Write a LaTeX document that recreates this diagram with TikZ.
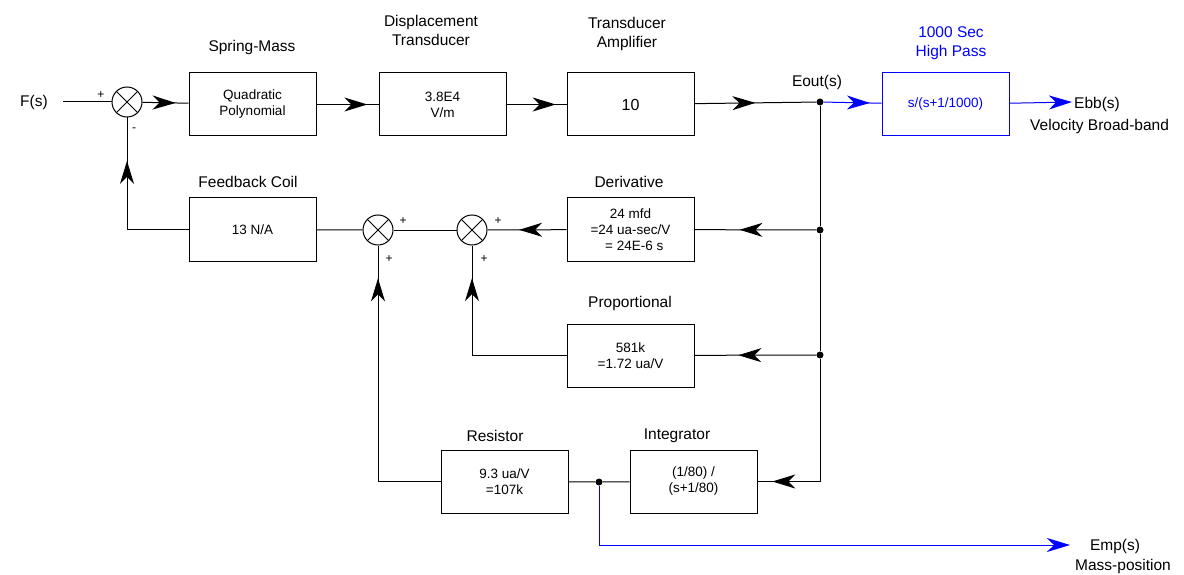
\documentclass[tikz,border=0pt]{standalone}
\usepackage{fontspec}
\setmainfont{Liberation Sans}
\usetikzlibrary{arrows.meta,decorations.markings}
\begin{document}
\begin{tikzpicture}[x=1pt,y=-1pt,
  every node/.style={inner sep=0pt},
  conn/.style={line width=1pt},
  blk/.style={draw,line width=1pt,minimum width=127pt,minimum height=63pt,align=center,font=\fontsize{13.5}{16}\selectfont},
  lbl/.style={font=\fontsize{15.5}{19}\selectfont,align=center},
  sgn/.style={font=\fontsize{12}{14}\selectfont},
  sum/.style={circle,draw,line width=1pt,minimum size=30pt,
    path picture={\draw[line width=1pt] (path picture bounding box.north west) -- (path picture bounding box.south east)
      (path picture bounding box.north east) -- (path picture bounding box.south west);}},
  dot/.style={circle,fill,minimum size=7pt},
  midarrow/.style={postaction={decorate},decoration={markings,mark=at position #1 with {\arrow{Stealth[length=23pt,width=14pt,inset=7pt]}}}},
  endarrow/.style={-{Stealth[length=23pt,width=14pt,inset=7pt]}}
]
\useasboundingbox (0,0) rectangle (1184,575);
% top row
\node[lbl,anchor=west] (F) at (20,102) {F(s)};
\coordinate (Fin) at (63,102);
\node[sum] (s1) at (127,102) {};
\node[blk] (b1) at (252.5,104.5) {Quadratic\\Polynomial};
\node[blk] (b2) at (442.5,104.5) {3.8E4\\V/m};
\node[blk,font=\fontsize{16}{19}\selectfont] (b3) at (630.5,104.5) {10};
\node[dot] (j1) at (820,102) {};
\node[blk,draw=blue,text=blue] (hp) at (945.5,104.5) {s/(s+1/1000)};
\coordinate (ebb) at (1072,102);
\node[lbl,anchor=west] (Ebb) at (1074,104) {Ebb(s)};
\node[lbl,anchor=west] (vbb) at (1030,126) {Velocity Broad-band};
\node[lbl] (l1) at (252,47) {Spring-Mass};
\node[lbl] (l2) at (431,30) {Displacement\\Transducer};
\node[lbl] (l3) at (627,34) {Transducer\\Amplifier};
\node[lbl] (l4) at (817,82) {Eout(s)};
\node[lbl,text=blue] (l5) at (951,43) {1000 Sec\\High Pass};
\node[sgn] at (101,95) {+};
\node[sgn] at (134,130) {-};
% second row
\node[blk] (fb) at (252.5,229.5) {13 N/A};
\node[sum] (s2) at (378,230) {};
\node[sum] (s3) at (472,230) {};
\node[blk] (der) at (630.5,229.5) {24 mfd\\=24 ua-sec/V\\\ \ = 24E-6 s};
\node[dot] (j2) at (820,230) {};
\node[lbl] (l6) at (248,182) {Feedback Coil};
\node[lbl] (l7) at (629,182) {Derivative};
\node[sgn] at (403,221) {+};
\node[sgn] at (389,259) {+};
\node[sgn] at (498,221) {+};
\node[sgn] at (484,259) {+};
% third row
\node[blk] (pro) at (630.5,355.5) {581k\\=1.72 ua/V};
\node[dot] (j3) at (820,355) {};
\node[lbl] (l8) at (630,303) {Proportional};
% fourth row
\node[blk] (res) at (504.5,481.5) {9.3 ua/V\\=107k};
\node[blk] (int) at (693.5,481.5) {(1/80) /\\(s+1/80)};
\node[dot] (j4) at (599,482) {};
\node[lbl] (l9) at (495,436) {Resistor};
\node[lbl] (l10) at (677,436) {Integrator};
\coordinate (emp) at (1070,545);
\node[lbl] (Emp) at (1115,546) {Emp(s)};
\node[lbl] (mp) at (1123,566) {Mass-position};
% connectors
\draw[conn] (Fin) -- (s1);
\draw[conn,midarrow=0.72] (s1) -- (b1);
\draw[conn,midarrow=0.82] (b1) -- (b2);
\draw[conn,midarrow=0.82] (b2) -- (b3);
\draw[conn,midarrow=0.5] (b3) -- (j1);
\draw[conn,blue,midarrow=0.8] (j1) -- (hp);
\draw[conn,blue,endarrow] (hp) -- (ebb);
\draw[conn] (j1) -- (j2) -- (j3);
\draw[conn,midarrow=0.63] (j2) -- (der);
\draw[conn,midarrow=0.6] (der) -- (s3);
\draw[conn] (s3) -- (s2);
\draw[conn] (s2) -- (fb);
\draw[conn,midarrow=0.75] (fb) -| (s1);
\draw[conn,midarrow=0.64] (j3) -- (pro);
\draw[conn,midarrow=0.84] (pro) -| (s3);
\draw[conn,midarrow=0.92] (j3) |- (int);
\draw[conn] (int) -- (j4) -- (res);
\draw[conn,midarrow=0.89] (res) -| (s2);
\draw[conn,blue,endarrow] (j4) |- (emp);
\end{tikzpicture}
\end{document}
